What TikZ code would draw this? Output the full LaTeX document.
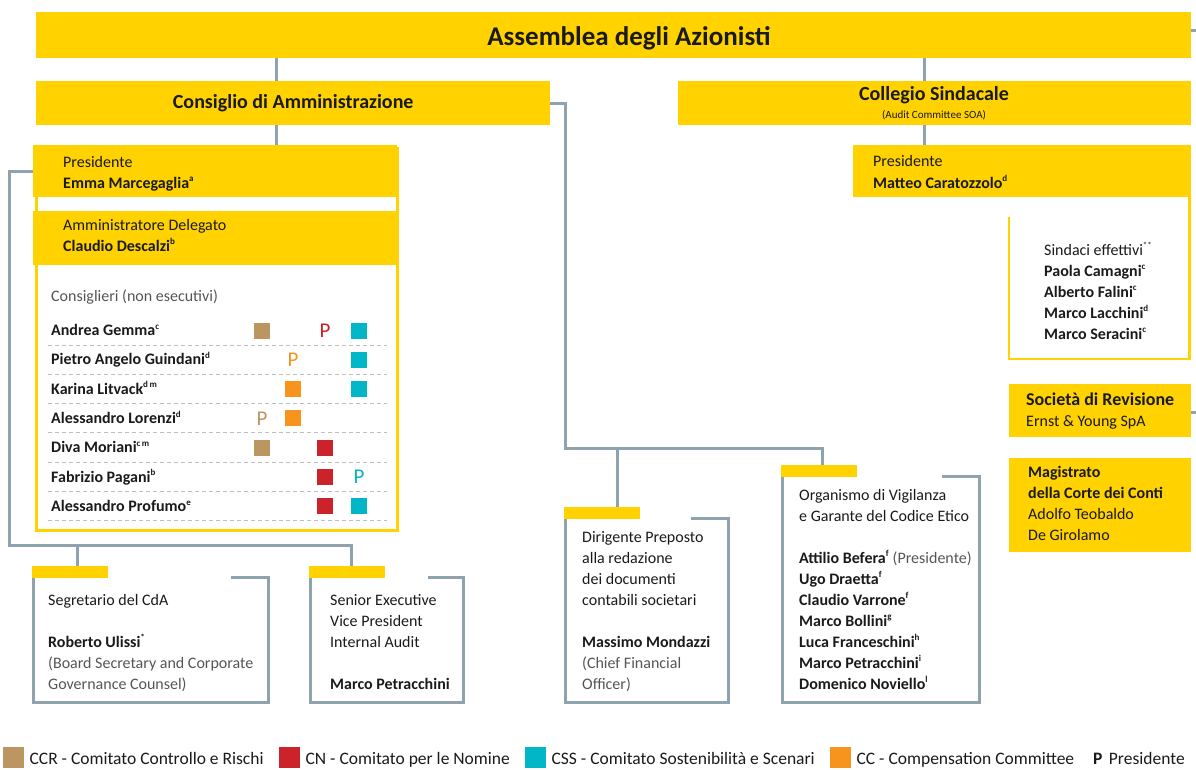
\documentclass[tikz,border=0pt]{standalone}
\usepackage{fontspec}
\setmainfont{Carlito}
\usetikzlibrary{calc}
\definecolor{yel}{HTML}{FFD200}
\definecolor{gl}{HTML}{8FA3AF}
\definecolor{ink}{HTML}{1A1A1A}
\definecolor{soft}{HTML}{555555}
\definecolor{ccr}{HTML}{BC9660}
\definecolor{cn}{HTML}{CC2229}
\definecolor{css}{HTML}{00B6C7}
\definecolor{cc}{HTML}{F7941D}
\newcommand{\nt}[1]{\textsuperscript{\fontsize{9}{9}\selectfont #1}}
\tikzset{
  ybox/.style={fill=yel,draw=none,inner sep=0pt,anchor=north west},
  gline/.style={draw=gl,line width=3pt},
  yframe/.style={draw=yel,line width=2.5pt},
  tab/.style={fill=yel,inner sep=0pt,anchor=north west,minimum width=76pt,minimum height=12pt},
  txt/.style={anchor=base west,inner sep=0pt,text=ink,font=\fontsize{16}{21}\selectfont},
  nm/.style={txt,font=\fontsize{16}{21}\selectfont\bfseries},
  blk/.style={anchor=north west,inner sep=0pt,text=ink,align=left,font=\fontsize{16}{21}\selectfont},
  sq/.style={minimum size=16pt,inner sep=0pt},
  pp/.style={inner sep=0pt,font=\fontsize{21}{21}\selectfont},
  rowline/.style={draw=black!25,line width=1pt,dash pattern=on 4pt off 3pt},
  lsq/.style={anchor=north west,minimum size=21pt,inner sep=0pt},
  ltxt/.style={anchor=base west,inner sep=0pt,text=ink,font=\fontsize{17.5}{20}\selectfont}
}

\begin{document}
\begin{tikzpicture}[x=1pt,y=-1pt]
\useasboundingbox (0,0) rectangle (1196,769);

% top level
\node[ybox,minimum width=1155pt,minimum height=46pt] (ass) at (36,12) {};
\node[text=ink,font=\fontsize{27}{30}\selectfont\bfseries] (asst) at (629,38) {Assemblea degli Azionisti};
\node[ybox,minimum width=514pt,minimum height=44pt,text=ink,font=\fontsize{20}{24}\selectfont\bfseries] (cons) at (36,81) {Consiglio di Amministrazione};
\node[ybox,minimum width=513pt,minimum height=44pt] (coll) at (678,81) {};
\node[anchor=base,text=ink,font=\fontsize{20}{24}\selectfont\bfseries] (collt) at (934,100) {Collegio Sindacale};
\node[anchor=base,text=ink,font=\fontsize{11}{13}\selectfont] (colla) at (934,118) {(Audit Committee SOA)};

% board
\node[draw=yel,line width=3pt,anchor=north west,minimum width=361pt,minimum height=382pt,inner sep=0pt] (cda) at (34.5,146.5) {};
\node[ybox,minimum width=364pt,minimum height=52pt] (pres) at (33,145) {};
\node[ybox,minimum width=364pt,minimum height=54pt] (ad) at (33,211) {};
\node[txt] (presl) at (63,167) {Presidente};
\node[nm] (presn) at (63,188) {Emma Marcegaglia\nt{a}};
\node[txt] (adl) at (63,230) {Amministratore Delegato};
\node[nm] (adn) at (63,251) {Claudio Descalzi\nt{b}};
\node[txt,text=soft] (consl) at (51,301) {Consiglieri (non esecutivi)};
\foreach \nm [count=\i] in {{Andrea Gemma\nt{c}},{Pietro Angelo Guindani\nt{d}},{Karina Litvack\nt{d\,m}},{Alessandro Lorenzi\nt{d}},{Diva Moriani\nt{c\,m}},{Fabrizio Pagani\nt{b}},{Alessandro Profumo\nt{e}}}{
  \node[nm] (r\i) at (51,{330.5+(\i-1)*29.3+5}) {\nm};
  \draw[rowline] (48,{330.5+(\i-1)*29.3+14.5}) -- (387,{330.5+(\i-1)*29.3+14.5});
}
\foreach \cx/\r/\cl in {262/1/ccr,359/1/css,359/2/css,293/3/cc,359/3/css,293/4/cc,262/5/ccr,325/5/cn,325/6/cn,325/7/cn,359/7/css}{
  \node[sq,fill=\cl] (s\cx-\r) at (\cx,{330.5+(\r-1)*29.3}) {};
}
\foreach \cx/\r/\cl in {325/1/cn,293/2/cc,262/4/ccr,359/6/css}{
  \node[pp,text=\cl] (p\cx-\r) at (\cx,{330.5+(\r-1)*29.3}) {P};
}

% statutory auditors
\node[ybox,minimum width=338pt,minimum height=52pt] (cpres) at (853,145) {};
\node[txt] (cpresl) at (873,166) {Presidente};
\node[nm] (cpresn) at (873,188) {Matteo Caratozzolo\nt{d}};
\draw[yframe] (1009,217) |- (1189.7,359) -- (1189.7,197);
\node[blk] (sind) at (1044,240.3) {\strut Sindaci effettivi\nt{**}\\ \textbf{Paola Camagni\nt{c}}\\ \textbf{Alberto Falini\nt{c}}\\ \textbf{Marco Lacchini\nt{d}}\\ \textbf{Marco Seracini\nt{c}}};
\node[ybox,minimum width=182pt,minimum height=53pt] (rev) at (1009,384) {};
\node[txt,font=\fontsize{18}{21}\selectfont\bfseries] (revt) at (1026,405) {Società di Revisione};
\node[txt] (revn) at (1026,426) {Ernst \& Young SpA};
\node[ybox,minimum width=182pt,minimum height=94pt] (mag) at (1009,458) {};
\node[blk] (magt) at (1028,462.3) {\strut\textbf{Magistrato}\\ \textbf{della Corte dei Conti}\\ Adolfo Teobaldo\\ De Girolamo};

% staff boxes
\node[tab] (segtab) at (32,566) {};
\node[tab] (sevtab) at (309,566) {};
\node[tab] (dirtab) at (564,507) {};
\node[tab] (odvtab) at (781,465) {};
\draw[gline] (231,577) -| (268,702) -| ($(segtab.south west)+(1.5,0)$);
\draw[gline] (428,577) -| (463,702) -| ($(sevtab.south west)+(1.5,0)$);
\draw[gline] (691,518) -| (728,702) -| ($(dirtab.south west)+(1.5,0)$);
\draw[gline] (942,476) -| (979,702) -| ($(odvtab.south west)+(1.5,0)$);
\node[blk] (segt) at (48,590.3) {\strut Segretario del CdA\\[21pt] \textbf{Roberto Ulissi\nt{*}}\\ \textcolor{soft}{(Board Secretary and Corporate}\\ \textcolor{soft}{Governance Counsel)}};
\node[blk] (sevt) at (330,590.3) {\strut Senior Executive\\ Vice President\\ Internal Audit\\[21pt] \textbf{Marco Petracchini}};
\node[blk] (dirt) at (582,527.3) {\strut Dirigente Preposto\\ alla redazione\\ dei documenti\\ contabili societari\\[21pt] \textbf{Massimo Mondazzi}\\ \textcolor{soft}{(Chief Financial}\\ \textcolor{soft}{Officer)}};
\node[blk] (odvt) at (799,485.3) {\strut Organismo di Vigilanza\\ e Garante del Codice Etico\\[21pt] \textbf{Attilio Befera\nt{f}} \textcolor{soft}{(Presidente)}\\ \textbf{Ugo Draetta\nt{f}}\\ \textbf{Claudio Varrone\nt{f}}\\ \textbf{Marco Bollini\nt{g}}\\ \textbf{Luca Franceschini\nt{h}}\\ \textbf{Marco Petracchini\nt{i}}\\ \textbf{Domenico Noviello\nt{l}}};

% connectors
\coordinate (xl) at (276,0);
\coordinate (xr) at (924,0);
\draw[gline] (ass.south -| xl) -- (cons.north -| xl);
\draw[gline] (cons.south -| xl) -- (pres.north -| xl);
\draw[gline] (ass.south -| xr) -- (coll.north -| xr);
\draw[gline] (coll.south -| xr) -- (cpres.north -| xr);
\coordinate (e1) at (1196,30);
\coordinate (e2) at (1196,412);
\draw[gline] (ass.east |- e1) -- (e1);
\draw[gline] (rev.east |- e2) -- (e2);
\coordinate (lb) at (9,545);
\coordinate (b1) at (77,545);
\coordinate (b2) at (351,545);
\draw[gline] (pres.west) -| (lb) -- (b2) -- (b2 |- sevtab.north);
\draw[gline] (b1) -- (b1 |- segtab.north);
\coordinate (rb) at (565,448);
\coordinate (b3) at (617,448);
\coordinate (b4) at (822,448);
\draw[gline] (cons.east) -| (rb) -- (b4) -- (b4 |- odvtab.north);
\draw[gline] (b3) -- (b3 |- dirtab.north);

% legend
\foreach \lx/\cl/\ltx [count=\k] in {3/ccr/{CCR - Comitato Controllo e Rischi},279/cn/{CN - Comitato per le Nomine},525/css/{CSS - Comitato Sostenibilità e Scenari},830/cc/{CC - Compensation Committee}}{
  \node[lsq,fill=\cl] (lg\k) at (\lx,747) {};
  \node[ltxt] (lt\k) at ($(lg\k.south east)+(5,-4)$) {\ltx};
}
\node[ltxt,font=\fontsize{17.5}{20}\selectfont\bfseries] (lp) at (1093,764) {P};
\node[ltxt] (lpt) at ($(lp.base east)+(6,0)$) {Presidente};
\end{tikzpicture}
\end{document}
